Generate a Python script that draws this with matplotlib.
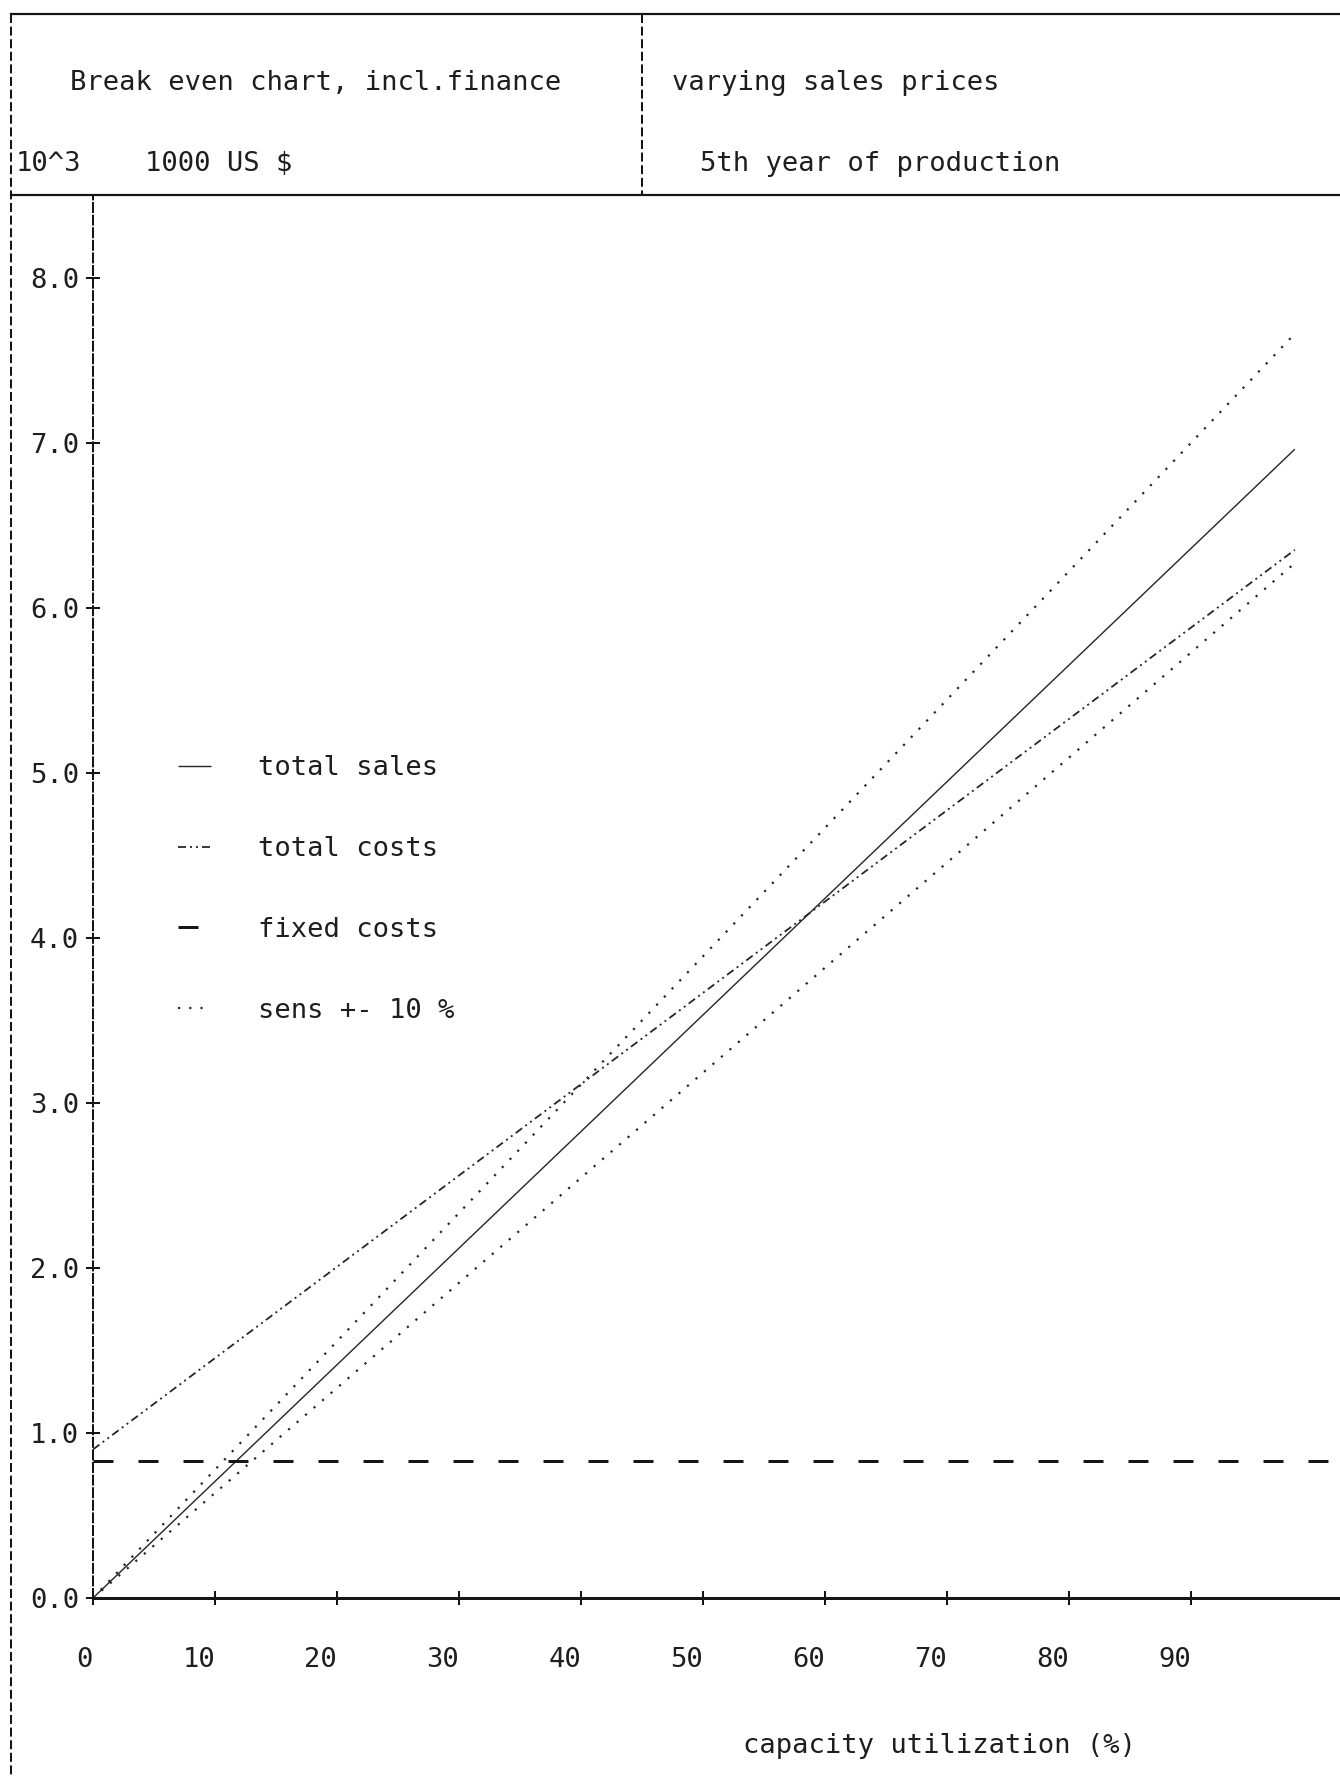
import matplotlib
matplotlib.use("Agg")
import matplotlib.pyplot as plt
from matplotlib.lines import Line2D

DPI = 100
W, H = 1340, 1778

# ---------------------------------------------------------------- data ----
utilization = [0, 98.5]              # capacity utilization (%)
total_sales = [0.0, 6.96]            # 10^3 * 1000 US $
sales_plus_10 = [0.0, 7.66]          # sales price +10 %
sales_minus_10 = [0.0, 6.27]         # sales price -10 %
total_costs = [0.90, 6.35]
fixed_costs = 0.83

x_ticks = [0, 10, 20, 30, 40, 50, 60, 70, 80, 90]
x_tick_labels = ["0", "10", "20", "30", "40", "50", "60", "70", "80", "90"]
y_ticks = [0, 1, 2, 3, 4, 5, 6, 7, 8]
y_tick_labels = ["0.0", "1.0", "2.0", "3.0", "4.0", "5.0", "6.0", "7.0", "8.0"]

title_left = "Break even chart, incl.finance"
title_right = "varying sales prices"
unit_scale = "10^3"
unit_label = "1000 US $"
subtitle = "5th year of production"
x_label = "capacity utilization (%)"
legend_labels = ["total sales", "total costs", "fixed costs", "sens +- 10 %"]

# --------------------------------------------------------------- style ----
FONT = ["DejaVu Sans Mono"]
FS = 19.5
INK = "#151515"
TXT = "#1e1e1e"
plt.rcParams["font.family"] = FONT


def pt(px):
    """pixels -> points"""
    return px * 72.0 / DPI


def fx(px):
    return px / W


def fy(py):
    return 1.0 - py / H


fig = plt.figure(figsize=(W / DPI, H / DPI), dpi=DPI)
fig.patch.set_facecolor("white")

# ------------------------------------------------------ header frame -----
frame_kw = dict(color=INK, transform=fig.transFigure)
fig.add_artist(Line2D([fx(11), 1.0], [fy(14), fy(14)], lw=pt(2.2), **frame_kw))
fig.add_artist(Line2D([fx(11), 1.0], [fy(195), fy(195)], lw=pt(2.2), **frame_kw))
fig.add_artist(Line2D([fx(11), fx(11)], [fy(14), 0.0], lw=pt(2.0),
                      dashes=(4.5, 1.8), **frame_kw))
fig.add_artist(Line2D([fx(642), fx(642)], [fy(14), fy(195)], lw=pt(2.0),
                      dashes=(4.5, 1.8), **frame_kw))

txt_kw = dict(fontsize=FS, color=TXT, va="center", ha="left")
fig.text(fx(70), fy(83), title_left, **txt_kw)
fig.text(fx(16), fy(164), unit_scale, **txt_kw)
fig.text(fx(145), fy(164), unit_label, **txt_kw)
fig.text(fx(672), fy(83), title_right, **txt_kw)
fig.text(fx(700), fy(164), subtitle, **txt_kw)

# --------------------------------------------------------------- axes ----
ax = fig.add_axes([fx(93), fy(1598), fx(W - 93), (1598 - 195) / H])
ax.set_xlim(0, 102.2)
ax.set_ylim(0, 8.5)
ax.patch.set_alpha(0)

for side in ("top", "right"):
    ax.spines[side].set_visible(False)
ax.spines["left"].set_linewidth(pt(2.0))
ax.spines["left"].set_linestyle((0, (4.5, 1.8)))
ax.spines["left"].set_color(INK)
ax.spines["bottom"].set_linewidth(pt(3.0))
ax.spines["bottom"].set_color(INK)

ax.set_xticks(x_ticks, x_tick_labels)
ax.set_yticks(y_ticks, y_tick_labels)
ax.tick_params(axis="both", direction="inout", length=pt(14), width=pt(2),
               color=INK, labelcolor=TXT, labelsize=FS)
ax.tick_params(axis="y", pad=pt(7))
ax.tick_params(axis="x", pad=pt(42))
for lab in ax.get_xticklabels():
    lab.set_ha("right")

fig.text(fx(743), fy(1746), x_label, **txt_kw)

# --------------------------------------------------------------- lines ---
LINE = "#262626"
lw_sales = pt(1.4)
lw_costs = pt(1.8)
lw_sens = pt(2.2)
lw_fixed = pt(3.0)


def dash(pattern_px, lw):
    return [pt(p) / lw for p in pattern_px]


h_sales, = ax.plot(utilization, total_sales, color=LINE, lw=lw_sales,
                   solid_capstyle="butt")
h_costs, = ax.plot(utilization, total_costs, color=LINE, lw=lw_costs,
                   dashes=dash([8, 4, 2, 4, 2, 4], lw_costs))
h_fixed = ax.axhline(fixed_costs, color=INK, lw=lw_fixed,
                     dashes=dash([20, 25], lw_fixed), clip_on=False)
h_sens, = ax.plot(utilization, sales_plus_10, color=LINE, lw=lw_sens,
                  dashes=dash([2.2, 9], lw_sens))
ax.plot(utilization, sales_minus_10, color=LINE, lw=lw_sens,
        dashes=dash([2.2, 9], lw_sens))

leg = ax.legend([h_sales, h_costs, h_fixed, h_sens], legend_labels,
                loc="upper left", bbox_to_anchor=(fx(178), fy(755)),
                bbox_transform=fig.transFigure, frameon=False,
                fontsize=FS, handlelength=1.2, handletextpad=1.75,
                labelspacing=2.03, borderpad=0, borderaxespad=0)
for t in leg.get_texts():
    t.set_color(TXT)

fig.savefig("out.png", dpi=DPI, facecolor="white")
